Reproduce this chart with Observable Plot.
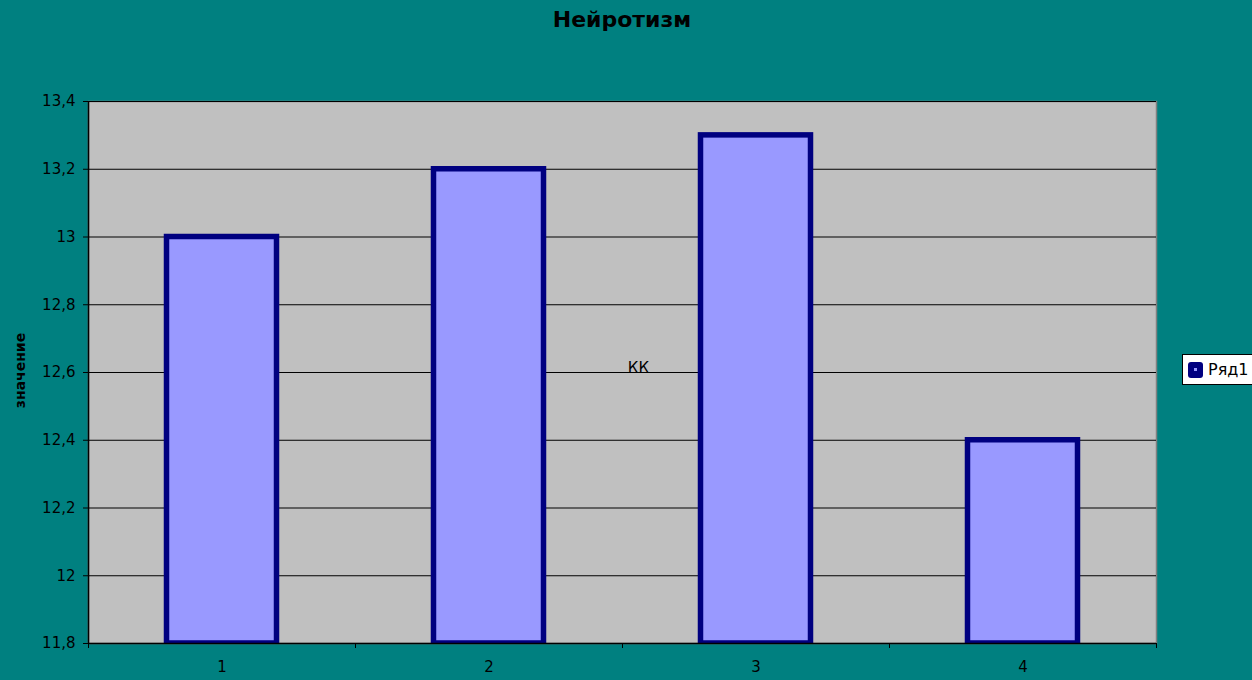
<!DOCTYPE html>
<html>
<head>
<meta charset="utf-8">
<script src="https://cdn.jsdelivr.net/npm/d3@7"></script>
<script src="https://cdn.jsdelivr.net/npm/@observablehq/plot@0.6"></script>
<style>
  html, body { margin: 0; padding: 0; background: #008080; }
  #wrap { position: relative; width: 1252px; height: 680px; overflow: hidden; font-family: "DejaVu Sans", Verdana, sans-serif; }
  #title { position: absolute; left: 0; top: 7px; width: 1244px; text-align: center; font-size: 22px; line-height: 26px; font-weight: bold; color: #000; }
  #legend { position: absolute; left: 1182px; top: 354px; width: 90px; height: 31px; background: #fff; border: 1px solid #000; box-sizing: border-box; }
  #legend .sw { position: absolute; left: 5px; top: 7px; width: 15px; height: 16px; background: #000080; border-radius: 3px; }
  #legend .sw::after { content: ""; position: absolute; left: 6px; top: 6px; width: 3px; height: 3px; background: #9999ff; }
  #legend .lb { position: absolute; left: 25px; top: 6px; font-size: 16px; line-height: 18px; color: #000; }
</style>
</head>
<body>
<div id="wrap">
  <div id="title"></div>
  <div id="chart"></div>
  <div id="legend"><span class="sw"></span><span class="lb"></span></div>
</div>
<script>
// ---- data ----
const title = "Нейротизм";
const yLabel = "значение";
const seriesName = "Ряд1";
const categories = [1, 2, 3, 4];
const values = [13.0, 13.2, 13.3, 12.4];
const yTicks = [11.8, 12.0, 12.2, 12.4, 12.6, 12.8, 13.0, 13.2, 13.4];
const yTickLabels = ["11,8", "12", "12,2", "12,4", "12,6", "12,8", "13", "13,2", "13,4"];
const xBoundaries = [0.5, 1.5, 2.5, 3.5, 4.5];
const annotations = [{x: 2.56, y: 12.6, text: "КК"}];

document.getElementById("title").textContent = title;
document.querySelector("#legend .lb").textContent = seriesName;

const baseline = yTicks[0];
const halfBar = 0.206;
const bars = categories.map((c, i) => ({cat: c, value: values[i]}));
const yLabelMap = new Map(yTicks.map((t, i) => [t, yTickLabels[i]]));

const chart = Plot.plot({
  width: 1252,
  height: 680,
  marginLeft: 88,
  marginRight: 96,
  marginTop: 101,
  marginBottom: 37,
  style: {background: "transparent", fontFamily: "'DejaVu Sans', Verdana, sans-serif", color: "#000"},
  x: {type: "linear", domain: [0.5, 4.5]},
  y: {domain: [11.8, 13.4]},
  marks: [
    Plot.frame({fill: "#c0c0c0", stroke: "#808080", strokeWidth: 1.5}),
    Plot.ruleY(yTicks.slice(1), {stroke: "#000", strokeWidth: 1}),
    Plot.rectY(bars, {
      x1: d => d.cat - halfBar,
      x2: d => d.cat + halfBar,
      y1: baseline,
      y2: "value",
      fill: "#9999ff",
      stroke: "#000080",
      strokeWidth: 5.5,
      clip: "frame"
    }),
    Plot.ruleY([baseline], {stroke: "#000", strokeWidth: 1.5}),
    Plot.ruleX([0.5], {stroke: "#000", strokeWidth: 1.5}),
    Plot.axisY({
      ticks: yTicks,
      tickFormat: d => yLabelMap.get(d) ?? "",
      tickSize: 5,
      tickPadding: 8,
      fontSize: 15,
      label: null,
      stroke: "#000"
    }),
    Plot.axisX({
      ticks: xBoundaries,
      tickFormat: () => "",
      tickSize: 5,
      label: null,
      stroke: "#000"
    }),
    Plot.axisX({
      ticks: categories,
      tickFormat: d => String(d),
      tickSize: 0,
      tickPadding: 18,
      fontSize: 15,
      label: null
    }),
    Plot.text([yLabel], {
      frameAnchor: "left",
      dx: -68,
      dy: -2,
      rotate: -90,
      textAnchor: "middle",
      text: d => d,
      fontSize: 14,
      fontWeight: "bold",
      fill: "#000"
    }),
    Plot.text(annotations, {
      x: "x", y: "y", text: "text",
      lineAnchor: "bottom",
      textAnchor: "middle",
      fontSize: 15,
      fill: "#000"
    })
  ]
});
document.getElementById("chart").appendChild(chart);
</script>
</body>
</html>
